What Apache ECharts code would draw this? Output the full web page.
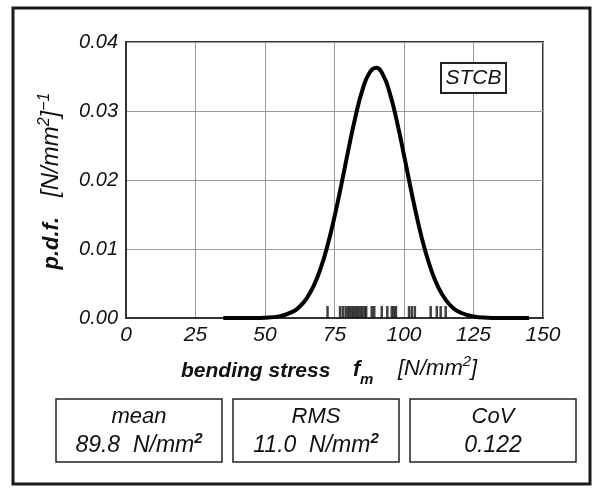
<!DOCTYPE html>
<html>
<head>
<meta charset="utf-8">
<title>STCB bending stress p.d.f.</title>
<script src="https://cdn.jsdelivr.net/npm/echarts@6/dist/echarts.min.js"></script>
<style>
    html, body { margin: 0; padding: 0; background: #fff; }
    #chart { width: 601px; height: 496px; }
</style>
</head>
<body>
<div id="chart"></div>
<script>
// fitted density curve (x in N/mm2, y = p.d.f.)
const curveX = [35, 40, 45, 50, 55, 60, 62.5, 65, 67.5, 70, 72.5, 75, 77.5, 80, 82.5, 85, 87.5, 90,
    92.5, 95, 97.5, 100, 102.5, 105, 107.5, 110, 112.5, 115, 117.5, 120, 125, 130, 135, 140, 145]
const curveY = [0, 0, 0.00001, 0.00005, 0.00024, 0.00092, 0.00167, 0.00286, 0.00465, 0.00718, 0.01053,
    0.01468, 0.0194, 0.02439, 0.0291, 0.03298, 0.03548, 0.03626, 0.0352, 0.03243, 0.02839, 0.0236,
    0.01862, 0.01396, 0.00994, 0.00672, 0.00431, 0.00263, 0.00152, 0.00084, 0.00022, 0.00005, 0.00001, 0, 0]
// single test values drawn as rug marks on the x axis
const rugX = [72.5, 77, 78, 79, 79.8, 80.5, 81.3, 82, 82.8, 83.5, 84.3, 85, 85.8, 86.4, 88.4, 89.3,
    92, 94, 95.6, 96.4, 97.1, 101.8, 102.8, 103.9, 109.6, 111.8, 113.2, 115]
const xTicks = [0, 25, 50, 75, 100, 125, 150]
const yTicks = [0, 0.01, 0.02, 0.03, 0.04]
// summary boxes below the chart
const statNames = ['mean', 'RMS', 'CoV']
const statValues = ['89.8', '11.0', '0.122']
const statUnits = ['N/mm', 'N/mm', '']   // unit gets a superscript 2
const sampleName = 'STCB'

const FONT = '"Liberation Sans", Arial, sans-serif'
const INK = '#111'

const myChart = echarts.init(document.getElementById('chart'), null, { renderer: 'canvas' })

// three boxes with mean / RMS / CoV
const boxX = [56, 233, 410]
const boxW = 166
const boxTop = 399
const boxH = 63
const statGraphics = []
statNames.forEach((name, i) => {
    statGraphics.push({
        type: 'rect',
        shape: { x: boxX[i], y: boxTop, width: boxW, height: boxH },
        style: { fill: '#fff', stroke: '#222', lineWidth: 1.5 }
    })
    statGraphics.push({
        type: 'text',
        x: boxX[i] + boxW / 2, y: boxTop + 18,
        style: {
            text: name, fill: INK, font: 'italic 22px ' + FONT,
            align: 'center', verticalAlign: 'middle'
        }
    })
    const valueText = statUnits[i]
        ? '{v|' + statValues[i] + '  ' + statUnits[i] + '}{s|2}'
        : '{v|' + statValues[i] + '}'
    statGraphics.push({
        type: 'text',
        x: boxX[i] + boxW / 2, y: boxTop + 45,
        style: {
            text: valueText,
            align: 'center', verticalAlign: 'middle',
            rich: {
                v: { font: 'italic 23px ' + FONT, fill: INK, lineHeight: 26, verticalAlign: 'bottom' },
                s: { font: 'italic bold 15px ' + FONT, fill: INK, lineHeight: 16, verticalAlign: 'top' }
            }
        }
    })
})

const option = {
    animation: false,
    backgroundColor: '#fff',
    grid: {
        left: 126, top: 42, width: 417, height: 276,
        show: true, borderColor: '#333', borderWidth: 2,
        containLabel: false
    },
    xAxis: {
        type: 'value',
        min: xTicks[0],
        max: xTicks[xTicks.length - 1],
        interval: 25,
        axisLine: { show: true, lineStyle: { color: '#333', width: 2 } },
        axisTick: { show: false },
        splitLine: { show: true, lineStyle: { color: '#999', width: 1 } },
        axisLabel: {
            margin: 7, color: INK,
            fontFamily: FONT, fontStyle: 'italic', fontSize: 21,
            formatter: v => String(v)
        }
    },
    yAxis: {
        type: 'value',
        min: yTicks[0],
        max: yTicks[yTicks.length - 1],
        interval: 0.01,
        axisLine: { show: true, lineStyle: { color: '#333', width: 2 } },
        axisTick: { show: false },
        splitLine: { show: true, lineStyle: { color: '#999', width: 1 } },
        axisLabel: {
            margin: 8, color: INK,
            fontFamily: FONT, fontStyle: 'italic', fontSize: 20,
            formatter: v => v.toFixed(2)
        }
    },
    series: [
        {
            name: 'p.d.f.',
            type: 'line',
            smooth: true,
            showSymbol: false,
            lineStyle: { color: '#000', width: 4 },
            data: curveX.map((x, i) => [x, curveY[i]]),
            z: 3
        },
        {
            name: 'tests',
            type: 'scatter',
            symbol: 'rect',
            symbolSize: [2.5, 12],
            symbolOffset: [0, '-50%'],
            itemStyle: { color: '#111' },
            data: rugX.map(x => [x, 0]),
            z: 4
        }
    ],
    graphic: [
        // outer frame
        {
            type: 'rect',
            shape: { x: 13, y: 8, width: 577, height: 476 },
            style: { fill: 'none', stroke: '#1a1a1a', lineWidth: 3 },
            z: 0
        },
        // sample label box
        {
            type: 'rect',
            shape: { x: 441, y: 63, width: 65, height: 30 },
            style: { fill: '#fff', stroke: '#222', lineWidth: 2 },
            z: 10
        },
        {
            type: 'text',
            x: 473.5, y: 78.5,
            style: {
                text: sampleName, fill: INK, font: 'italic 21px ' + FONT,
                align: 'center', verticalAlign: 'middle'
            },
            z: 11
        },
        // y axis title
        {
            type: 'text',
            x: 50, y: 181,
            rotation: Math.PI / 2,
            style: {
                text: '{b|p.d.f.}{n|   [N/mm}{s|2}{n|]}{s|−1}',
                align: 'center', verticalAlign: 'middle',
                rich: {
                    b: { font: 'italic bold 22px ' + FONT, fill: INK, lineHeight: 26, verticalAlign: 'bottom' },
                    n: { font: 'italic 24px ' + FONT, fill: INK, lineHeight: 26, verticalAlign: 'bottom' },
                    s: { font: 'italic 16px ' + FONT, fill: INK, lineHeight: 16, verticalAlign: 'top' }
                }
            }
        },
        // x axis title
        {
            type: 'text',
            x: 181, y: 371,
            style: {
                text: 'bending stress', fill: INK, font: 'italic bold 21px ' + FONT,
                align: 'left', verticalAlign: 'middle'
            }
        },
        {
            type: 'text',
            x: 353, y: 370,
            style: {
                text: 'f', fill: INK, font: 'italic bold 22px ' + FONT,
                align: 'left', verticalAlign: 'middle'
            }
        },
        {
            type: 'text',
            x: 360, y: 380,
            style: {
                text: 'm', fill: INK, font: 'italic bold 15px ' + FONT,
                align: 'left', verticalAlign: 'middle'
            }
        },
        {
            type: 'text',
            x: 398, y: 367,
            style: {
                text: '{n|[N/mm}{s|2}{n|]}',
                align: 'left', verticalAlign: 'middle',
                rich: {
                    n: { font: 'italic 22px ' + FONT, fill: INK, lineHeight: 26, verticalAlign: 'bottom' },
                    s: { font: 'italic 15px ' + FONT, fill: INK, lineHeight: 16, verticalAlign: 'top' }
                }
            }
        }
    ].concat(statGraphics)
}
myChart.setOption(option)
</script>
</body>
</html>
